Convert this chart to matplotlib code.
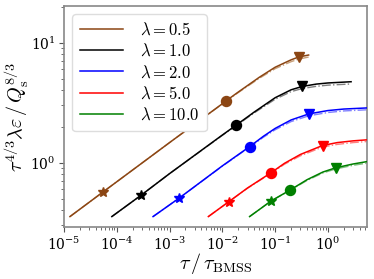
import matplotlib
matplotlib.use("Agg")
import matplotlib.pyplot as plt

plt.rcParams['mathtext.fontset'] = 'cm'
plt.rcParams['font.family'] = ['DejaVu Serif']

labels = [r'$\lambda = 0.5$', r'$\lambda = 1.0$', r'$\lambda = 2.0$', r'$\lambda = 5.0$', r'$\lambda = 10.0$']
colors = ['#8B4513', 'black', 'blue', 'red', 'green']
light_colors = ['#c8a07a', 'gray', '#8080ff', '#ff8080', '#80c080']

# tau / tau_BMSS values along each curve, with solid and dash-dot values
x_05 = [1.3e-5, 5.6e-5, 1e-3, 1e-2, 0.0119, 0.02, 0.05, 0.1, 0.2, 0.277, 0.43]
y_05 = [0.355, 0.573, 1.47, 3.10, 3.29, 3.88, 5.15, 6.25, 7.2, 7.6, 7.9]
y_05_dd = [0.355, 0.573, 1.47, 3.09, 3.27, 3.84, 5.05, 6.08, 6.95, 7.3, 7.6]

x_10 = [8.07e-5, 2.94e-4, 1e-3, 1e-2, 0.0184, 0.04, 0.1, 0.2, 0.325, 0.6, 1.0, 2.74]
y_10 = [0.355, 0.538, 0.81, 1.70, 2.06, 2.64, 3.48, 4.05, 4.32, 4.52, 4.62, 4.73]
y_10_dd = [0.355, 0.538, 0.81, 1.69, 2.04, 2.60, 3.38, 3.91, 4.15, 4.33, 4.43, 4.53]

x_20 = [4.87e-4, 1.51e-3, 1e-2, 0.0328, 0.06, 0.1, 0.2, 0.434, 1.0, 2.0, 5.46]
y_20 = [0.355, 0.505, 0.94, 1.36, 1.66, 1.93, 2.27, 2.55, 2.72, 2.80, 2.86]
y_20_dd = [0.355, 0.505, 0.935, 1.35, 1.63, 1.88, 2.20, 2.46, 2.62, 2.70, 2.76]

x_50 = [5.43e-3, 0.0133, 0.03, 0.0843, 0.15, 0.3, 0.79, 1.5, 3.0, 5.46]
y_50 = [0.355, 0.473, 0.615, 0.826, 0.987, 1.17, 1.39, 1.47, 1.52, 1.55]
y_50_dd = [0.355, 0.473, 0.612, 0.818, 0.97, 1.14, 1.35, 1.42, 1.47, 1.50]

x_100 = [0.0328, 0.0843, 0.193, 0.4, 0.8, 1.39, 3.0, 5.46]
y_100 = [0.355, 0.48, 0.592, 0.72, 0.835, 0.905, 0.975, 1.02]
y_100_dd = [0.355, 0.48, 0.588, 0.71, 0.82, 0.885, 0.95, 0.99]

# marker positions (star, circle, triangle)
star_x = [5.6e-5, 2.94e-4, 1.51e-3, 0.0133, 0.0843]
star_y = [0.573, 0.538, 0.505, 0.473, 0.48]
circ_x = [0.0119, 0.0184, 0.0328, 0.0843, 0.193]
circ_y = [3.29, 2.06, 1.36, 0.826, 0.592]
tri_x = [0.277, 0.325, 0.434, 0.79, 1.39]
tri_y = [7.6, 4.32, 2.55, 1.39, 0.905]

xs = [x_05, x_10, x_20, x_50, x_100]
ys = [y_05, y_10, y_20, y_50, y_100]
ys_dd = [y_05_dd, y_10_dd, y_20_dd, y_50_dd, y_100_dd]

fig = plt.figure(figsize=(3.74, 2.79), dpi=100)
ax = fig.add_axes([0.171, 0.186, 0.81, 0.792])

for i in range(5):
    ax.plot(xs[i], ys_dd[i], color=light_colors[i], lw=1.0, ls='-.', zorder=2)
    ax.plot(xs[i], ys[i], color=colors[i], lw=1.1, label=labels[i], zorder=3)
    ax.plot(star_x[i], star_y[i], marker='*', color=colors[i], ms=7.5, ls='none', zorder=4)
    ax.plot(circ_x[i], circ_y[i], marker='o', color=colors[i], ms=7.2, ls='none', zorder=4)
    ax.plot(tri_x[i], tri_y[i], marker='v', color=colors[i], ms=7, ls='none', zorder=4)

ax.set_xscale('log')
ax.set_yscale('log')
ax.set_xlim(1e-5, 5.46)
ax.set_ylim(0.29, 20.2)
ax.set_xticks([1e-5, 1e-4, 1e-3, 1e-2, 1e-1, 1e0])
ax.set_yticks([1e0, 1e1])

for sp in ax.spines.values():
    sp.set_color('#888888')
    sp.set_linewidth(1.2)
ax.tick_params(which='both', direction='out', colors='#555555', labelcolor='black', labelsize=10)
ax.tick_params(which='major', length=3.5, width=0.8, pad=2.5)
ax.tick_params(which='minor', length=2, width=0.6)

ax.set_xlabel(r'$\tau\,/\,\tau_{\mathrm{BMSS}}$', fontsize=14.5)
ax.set_ylabel(r'$\tau^{4/3}\lambda\varepsilon\,/\,Q_{\mathrm{s}}^{8/3}$', fontsize=14.5)
ax.xaxis.set_label_coords(0.5, -0.11)
ax.yaxis.set_label_coords(-0.108, 0.5)

leg = ax.legend(loc='upper left', fontsize=12, handlelength=2.6, labelspacing=0.25,
                borderpad=0.45, handletextpad=1.0, framealpha=1, edgecolor='#dddddd')

fig.savefig('out.png', dpi=100)
